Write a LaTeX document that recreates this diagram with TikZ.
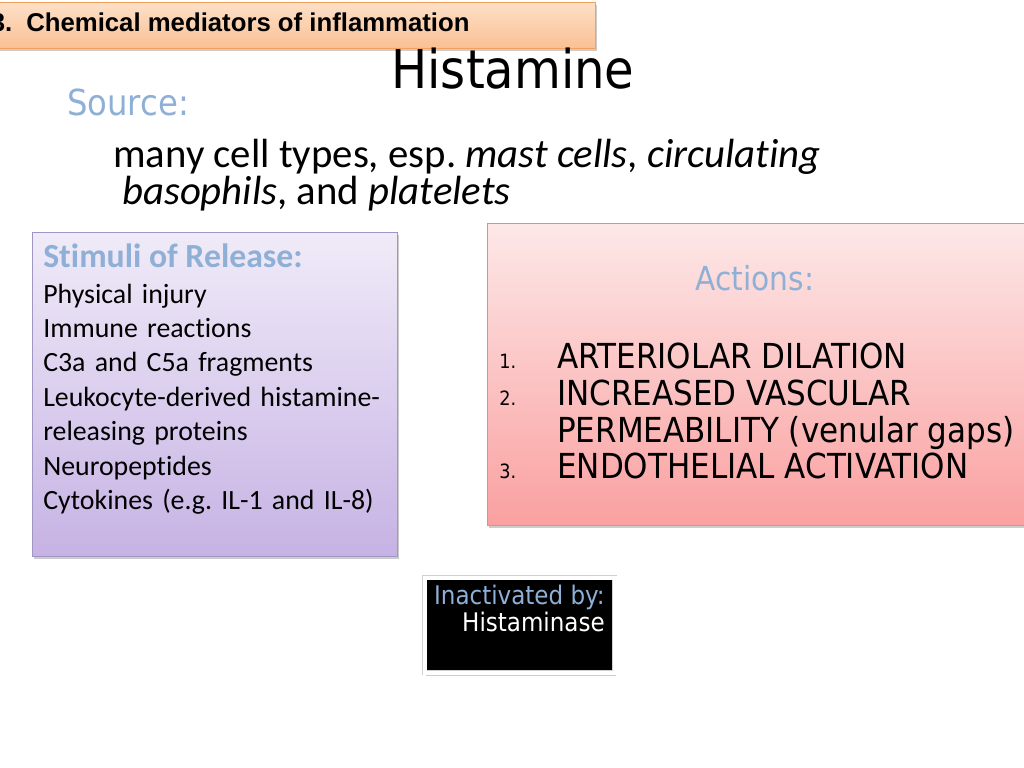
\documentclass[tikz,border=0pt]{standalone}
\usepackage{fontspec}
\setmainfont{Carlito}[Ligatures=NoCommon]
\newfontfamily\tahomafont{DejaVu Sans Condensed}
\newfontfamily\arialfont{Liberation Sans}
\usepackage{tikz}
\usetikzlibrary{shadows,positioning}
\definecolor{soft blue}{RGB}{143,176,214}
\definecolor{header top}{RGB}{253,224,200}
\definecolor{header bottom}{RGB}{250,192,148}
\definecolor{header edge}{RGB}{245,160,90}
\definecolor{stimuli top}{RGB}{240,235,248}
\definecolor{stimuli bottom}{RGB}{198,178,228}
\definecolor{stimuli edge}{RGB}{160,150,195}
\definecolor{actions top}{RGB}{253,232,232}
\definecolor{actions bottom}{RGB}{250,160,160}
\definecolor{actions edge}{RGB}{215,145,145}
\frenchspacing

\begin{document}
\begin{tikzpicture}[x=0.025cm, y=-0.025cm,
		panel/.style={rectangle, inner sep=0pt, anchor=north west,
			drop shadow={opacity=0.4, shadow xshift=1pt, shadow yshift=-2pt}},
		plain/.style={inner sep=0pt, anchor=base west},
		big/.style={font=\tahomafont\fontsize{24.5}{28}\selectfont},
		small/.style={font=\tahomafont\fontsize{14}{16}\selectfont}]
		\useasboundingbox (0,0) rectangle (1024,768);
		% banner
		\node[panel, draw=header edge, top color=header top, bottom color=header bottom,
			minimum width=15cm, minimum height=1.15cm] (header) at (-5,2) {};
		\node[plain, font=\arialfont\bfseries\fontsize{18.3}{22}\selectfont] (headertext)
			at (-9.5,32) {3.\hspace{10pt}Chemical mediators of inflammation};
		% title and source
		\node[inner sep=0pt, anchor=base, font=\tahomafont\fontsize{38}{44}\selectfont] (title)
			at (513,89) {Histamine};
		\node[plain, text=soft blue, font=\tahomafont\fontsize{25.5}{30}\selectfont] (source)
			at (67,116) {Source:};
		\node[plain, font=\fontsize{29}{36}\selectfont] (cells)
			at (113,167) {many cell types, esp. \textit{mast cells}, \textit{circulating}};
		\node[plain, font=\fontsize{29}{36}\selectfont] (cellsb)
			at (122,204) {\textit{basophils}, and \textit{platelets}};
		% part for stimuli of release
		\node[panel, draw=stimuli edge, top color=stimuli top, bottom color=stimuli bottom,
			minimum width=9.125cm, minimum height=8.1cm] (stimuli) at (32,232) {};
		\node[plain, text=soft blue, font=\bfseries\fontsize{24}{28}\selectfont] (stimulihead)
			at (43,267) {Stimuli of Release:};
		\node[plain, text width=8.8cm, align=left, font=\fontsize{19.8}{24.5}\selectfont] (stimulitext)
			at (43,303) {Physical injury\\
				Immune reactions\\
				C3a and C5a fragments\\
				Leukocyte-derived histamine-\\
				releasing proteins\\
				Neuropeptides\\
				Cytokines (e.g. IL-1 and IL-8)};
		% part for actions
		\node[panel, draw=actions edge, top color=actions top, bottom color=actions bottom,
			minimum width=13.6cm, minimum height=7.55cm] (actions) at (487,223) {};
		\node[inner sep=0pt, anchor=base, text=soft blue, font=\tahomafont\fontsize{23.5}{26}\selectfont] (actionshead)
			at (755,290) {Actions:};
		\node[plain, small] (n1) at (499,368) {1.};
		\node[plain, big] (a1) at (557,368) {ARTERIOLAR DILATION};
		\node[plain, small] (n2) at (499,405) {2.};
		\node[plain, big] (a2) at (557,405) {INCREASED VASCULAR};
		\node[plain, big] (a2b) at (557,442) {PERMEABILITY (venular gaps)};
		\node[plain, small] (n3) at (499,478) {3.};
		\node[plain, big] (a3) at (557,478) {ENDOTHELIAL ACTIVATION};
		% part for inactivation
		\node[panel, fill=black, draw=black!18, double=white, double distance=2.5pt, line width=0.5pt,
			minimum width=4.75cm, minimum height=2.375cm] (inactive) at (424.5,577.5) {};
		\node[inner sep=0pt, anchor=base east, text=soft blue, font=\tahomafont\fontsize{18.2}{20}\selectfont] (inactivehead)
			at (605,604) {Inactivated by:};
		\node[inner sep=0pt, anchor=base east, text=white, font=\tahomafont\fontsize{18.2}{20}\selectfont] (enzyme)
			at (605,631) {Histaminase};
	\end{tikzpicture}
\end{document}
